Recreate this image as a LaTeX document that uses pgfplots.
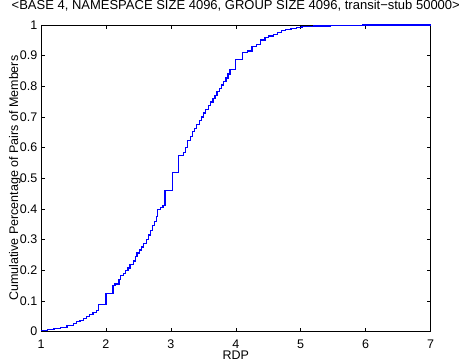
\documentclass[border=0pt]{standalone}
\usepackage{pgfplots}
\pgfplotsset{compat=1.18}
\usepackage{fontspec}
\setmainfont{Liberation Sans}
\definecolor{mblue}{RGB}{0,0,255}
\begin{document}
\fontsize{12.5pt}{15pt}\selectfont
\begin{tikzpicture}[x=1pt,y=1pt]
\begin{axis}[
  set layers,
  at={(0pt,0pt)}, anchor=south west,
  scale only axis, width=389.5pt, height=306.5pt,
  xmin=1, xmax=7, ymin=0, ymax=1,
  clip=false,
  xtick={1,2,3,4,5,6,7},
  ytick={0,0.1,0.2,0.3,0.4,0.5,0.6,0.7,0.8,0.9,1},
  yticklabels={0,0.1,0.2,0.3,0.4,0.5,0.6,0.7,0.8,0.9,1},
  xticklabels={1,2,3,4,5,6,7},
  tick align=inside, major tick length=4pt,
  tick style={black, line width=0.5pt},
  axis line style={black, line width=0.7pt},
  ticklabel style={font=\fontsize{12.5pt}{15pt}\selectfont},
  /pgf/number format/assume math mode=true,
  xticklabel style={anchor=base, yshift=-17pt},
  yticklabel style={anchor=east, xshift=-3.5pt, inner sep=0pt},
  title={<BASE 4, NAMESPACE SIZE 4096, GROUP SIZE 4096, transit−stub 50000>},
  title style={font=\fontsize{13pt}{15pt}\selectfont, at={(axis description cs:0.5,1)}, anchor=base, yshift=9pt, inner sep=0pt},
  xlabel={RDP}, ylabel={Cumulative Percentage of Pairs of Members},
  xlabel style={font=\fontsize{12.5pt}{15pt}\selectfont, at={(axis description cs:0.5,0)}, anchor=base, yshift=-28pt, inner sep=0pt},
  ylabel style={font=\fontsize{12.5pt}{15pt}\selectfont, at={(axis description cs:0,0.5)}, anchor=base, rotate=0, yshift=23pt, inner sep=0pt},
]
\addplot[const plot, draw=mblue, line width=1.2pt, on layer=axis foreground] coordinates {
(1.00,0.003) (1.10,0.006) (1.20,0.009) (1.30,0.013) (1.40,0.019) (1.50,0.027)
(1.55,0.032) (1.60,0.037) (1.65,0.043) (1.70,0.049) (1.75,0.056) (1.80,0.063)
(1.85,0.068) (1.88,0.088) (2.00,0.123) (2.11,0.150) (2.14,0.155) (2.20,0.170)
(2.22,0.183) (2.27,0.190) (2.30,0.200) (2.34,0.207) (2.37,0.218) (2.42,0.230)
(2.45,0.245) (2.48,0.256) (2.52,0.266) (2.55,0.276) (2.58,0.288) (2.62,0.300)
(2.65,0.315) (2.69,0.330) (2.72,0.345) (2.75,0.358) (2.78,0.375) (2.80,0.398)
(2.84,0.405) (2.88,0.412) (2.91,0.460) (3.02,0.520) (3.12,0.574) (3.20,0.585)
(3.22,0.600) (3.26,0.624) (3.30,0.636) (3.33,0.653) (3.37,0.662) (3.40,0.675)
(3.44,0.688) (3.47,0.700) (3.50,0.713) (3.54,0.724) (3.58,0.737) (3.61,0.749)
(3.65,0.760) (3.68,0.771) (3.71,0.782) (3.75,0.793) (3.78,0.804) (3.81,0.815)
(3.85,0.827) (3.88,0.840) (3.91,0.855) (4.00,0.887) (4.11,0.909) (4.18,0.915)
(4.25,0.931) (4.32,0.937) (4.38,0.951) (4.45,0.958) (4.51,0.964) (4.58,0.970)
(4.64,0.975) (4.70,0.981) (4.77,0.986) (4.85,0.989) (4.93,0.992) (5.02,0.994)
(5.20,0.997) (5.46,0.999) (5.95,1.000) (7.00,1.000)
};
\end{axis}
\pgfresetboundingbox
\useasboundingbox (-41pt,-32.3pt) rectangle (421pt,331.5pt);
\end{tikzpicture}
\end{document}
